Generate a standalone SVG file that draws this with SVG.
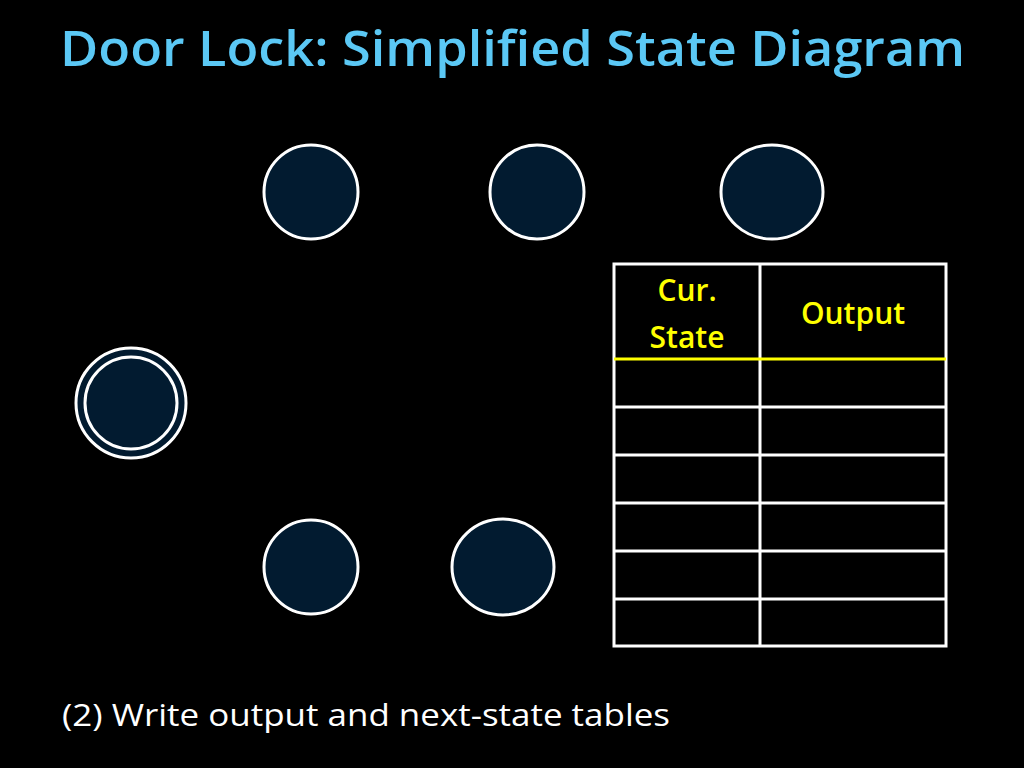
<svg xmlns="http://www.w3.org/2000/svg" width="1024" height="768" viewBox="0 0 1024 768">
<style>
.st{fill:#021B30;stroke:#fff;stroke-width:3}
.ln{stroke:#fff;stroke-width:3}
.hd{fill:#FFFF00;font-family:"Open Sans","Liberation Sans",sans-serif;font-weight:600;font-size:30px;text-anchor:middle}
</style>
<rect width="1024" height="768" fill="#000"/>
<text x="60" y="66" font-family="Open Sans, Liberation Sans, sans-serif" font-weight="600" font-size="48" fill="#5BC8F5" textLength="905" lengthAdjust="spacingAndGlyphs">Door Lock: Simplified State Diagram</text>
<g id="s1"><circle class="st" cx="311" cy="192" r="47"/></g>
<g id="s2"><circle class="st" cx="537" cy="192" r="47"/></g>
<g id="s3"><ellipse class="st" cx="772" cy="192" rx="51" ry="47"/></g>
<g id="s0"><circle class="st" cx="131" cy="403" r="55"/><circle class="st" cx="131" cy="403" r="46"/></g>
<g id="s4"><circle class="st" cx="311" cy="567" r="47"/></g>
<g id="s5"><ellipse class="st" cx="503" cy="567" rx="51" ry="48"/></g>
<g id="connectors"></g>
<g id="table">
<rect x="614" y="264" width="332" height="382" fill="none" class="ln"/>
<line class="ln" x1="760" y1="264" x2="760" y2="646"/>
<line x1="614" y1="359" x2="946" y2="359" stroke="#FFFF00" stroke-width="3"/>
<line class="ln" x1="614" y1="407" x2="946" y2="407"/>
<line class="ln" x1="614" y1="455" x2="946" y2="455"/>
<line class="ln" x1="614" y1="503" x2="946" y2="503"/>
<line class="ln" x1="614" y1="551" x2="946" y2="551"/>
<line class="ln" x1="614" y1="599" x2="946" y2="599"/>
<text class="hd" x="687" y="301">Cur.</text>
<text class="hd" x="687" y="348">State</text>
<text class="hd" x="853" y="324">Output</text>
</g>
<text x="62" y="726" font-family="Open Sans, Liberation Sans, sans-serif" font-size="31" fill="#fff" textLength="608" lengthAdjust="spacingAndGlyphs">(2) Write output and next-state tables</text>
</svg>
